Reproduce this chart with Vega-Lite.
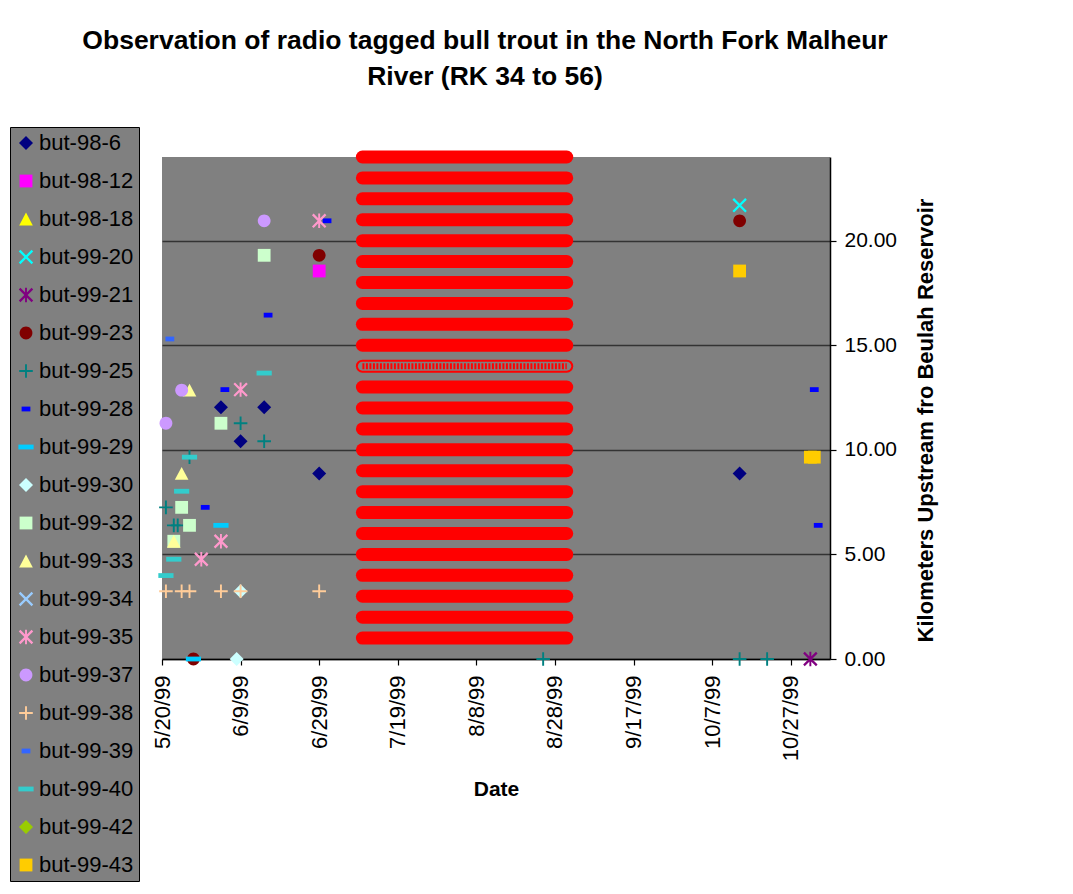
{
  "$schema": "https://vega.github.io/schema/vega-lite/v6.json",
  "width": 668,
  "height": 502,
  "autosize": {"type": "none"},
  "padding": {"left": 162, "top": 157, "right": 243, "bottom": 235},
  "background": "white",
  "title": {
    "text": ["Observation of radio tagged bull trout in the North Fork Malheur", "River (RK 34 to 56)"],
    "font": "Liberation Sans",
    "fontSize": 26.5,
    "fontWeight": "bold",
    "color": "black",
    "anchor": "middle",
    "frame": "group",
    "lineHeight": 36,
    "dx": -11,
    "offset": 36
  },
  "config": {
    "view": {"fill": "#808080", "stroke": null},
    "font": "Liberation Sans",
    "axis": {
      "labelFont": "Liberation Sans",
      "titleFont": "Liberation Sans",
      "labelColor": "black",
      "titleColor": "black",
      "domainColor": "black",
      "tickColor": "black",
      "domainWidth": 1.5,
      "tickWidth": 1.2
    }
  },
  "datasets": {
    "bars": [
      {"start": "1999-07-10", "end": "1999-08-31", "km": 1, "kind": "solid"},
      {"start": "1999-07-10", "end": "1999-08-31", "km": 2, "kind": "solid"},
      {"start": "1999-07-10", "end": "1999-08-31", "km": 3, "kind": "solid"},
      {"start": "1999-07-10", "end": "1999-08-31", "km": 4, "kind": "solid"},
      {"start": "1999-07-10", "end": "1999-08-31", "km": 5, "kind": "solid"},
      {"start": "1999-07-10", "end": "1999-08-31", "km": 6, "kind": "solid"},
      {"start": "1999-07-10", "end": "1999-08-31", "km": 7, "kind": "solid"},
      {"start": "1999-07-10", "end": "1999-08-31", "km": 8, "kind": "solid"},
      {"start": "1999-07-10", "end": "1999-08-31", "km": 9, "kind": "solid"},
      {"start": "1999-07-10", "end": "1999-08-31", "km": 10, "kind": "solid"},
      {"start": "1999-07-10", "end": "1999-08-31", "km": 11, "kind": "solid"},
      {"start": "1999-07-10", "end": "1999-08-31", "km": 12, "kind": "solid"},
      {"start": "1999-07-10", "end": "1999-08-31", "km": 13, "kind": "solid"},
      {"start": "1999-07-10", "end": "1999-08-31", "km": 14, "kind": "open"},
      {"start": "1999-07-10", "end": "1999-08-31", "km": 15, "kind": "solid"},
      {"start": "1999-07-10", "end": "1999-08-31", "km": 16, "kind": "solid"},
      {"start": "1999-07-10", "end": "1999-08-31", "km": 17, "kind": "solid"},
      {"start": "1999-07-10", "end": "1999-08-31", "km": 18, "kind": "solid"},
      {"start": "1999-07-10", "end": "1999-08-31", "km": 19, "kind": "solid"},
      {"start": "1999-07-10", "end": "1999-08-31", "km": 20, "kind": "solid"},
      {"start": "1999-07-10", "end": "1999-08-31", "km": 21, "kind": "solid"},
      {"start": "1999-07-10", "end": "1999-08-31", "km": 22, "kind": "solid"},
      {"start": "1999-07-10", "end": "1999-08-31", "km": 23, "kind": "solid"},
      {"start": "1999-07-10", "end": "1999-08-31", "km": 24, "kind": "solid"}
    ],
    "obs": [
      {"fish": "but-98-6", "date": "1999-06-04", "km": 12.04},
      {"fish": "but-98-6", "date": "1999-06-15", "km": 12.04},
      {"fish": "but-98-6", "date": "1999-06-09", "km": 10.41},
      {"fish": "but-98-6", "date": "1999-06-29", "km": 8.87},
      {"fish": "but-98-6", "date": "1999-10-14", "km": 8.87},
      {"fish": "but-98-12", "date": "1999-06-29", "km": 18.55},
      {"fish": "but-99-20", "date": "1999-10-14", "km": 21.69},
      {"fish": "but-99-21", "date": "1999-11-01", "km": 0},
      {"fish": "but-99-23", "date": "1999-06-29", "km": 19.3},
      {"fish": "but-99-23", "date": "1999-10-14", "km": 20.95},
      {"fish": "but-99-23", "date": "1999-05-28", "km": 0},
      {"fish": "but-99-25", "date": "1999-06-09", "km": 11.27},
      {"fish": "but-99-25", "date": "1999-06-15", "km": 10.41},
      {"fish": "but-99-25", "date": "1999-05-27", "km": 9.65},
      {"fish": "but-99-25", "date": "1999-05-21", "km": 7.25},
      {"fish": "but-99-25", "date": "1999-05-23", "km": 6.39},
      {"fish": "but-99-25", "date": "1999-05-24", "km": 6.39},
      {"fish": "but-99-25", "date": "1999-08-25", "km": 0},
      {"fish": "but-99-25", "date": "1999-10-14", "km": 0},
      {"fish": "but-99-25", "date": "1999-10-21", "km": 0},
      {"fish": "but-99-28", "date": "1999-07-01", "km": 20.95},
      {"fish": "but-99-28", "date": "1999-06-16", "km": 16.44},
      {"fish": "but-99-28", "date": "1999-06-05", "km": 12.88},
      {"fish": "but-99-28", "date": "1999-05-31", "km": 7.25},
      {"fish": "but-99-28", "date": "1999-11-02", "km": 12.88},
      {"fish": "but-99-28", "date": "1999-11-03", "km": 6.39},
      {"fish": "but-99-29", "date": "1999-06-04", "km": 6.39},
      {"fish": "but-99-29", "date": "1999-05-28", "km": 0},
      {"fish": "but-99-30", "date": "1999-06-09", "km": 3.24},
      {"fish": "but-99-30", "date": "1999-06-08", "km": 0},
      {"fish": "but-99-32", "date": "1999-06-15", "km": 19.3},
      {"fish": "but-99-32", "date": "1999-06-04", "km": 11.27},
      {"fish": "but-99-32", "date": "1999-05-25", "km": 7.25},
      {"fish": "but-99-32", "date": "1999-05-27", "km": 6.39},
      {"fish": "but-99-32", "date": "1999-05-23", "km": 5.63},
      {"fish": "but-99-33", "date": "1999-05-27", "km": 12.85},
      {"fish": "but-99-33", "date": "1999-05-25", "km": 8.87},
      {"fish": "but-99-33", "date": "1999-05-23", "km": 5.63},
      {"fish": "but-99-35", "date": "1999-06-29", "km": 20.95},
      {"fish": "but-99-35", "date": "1999-06-09", "km": 12.88},
      {"fish": "but-99-35", "date": "1999-06-04", "km": 5.63},
      {"fish": "but-99-35", "date": "1999-05-30", "km": 4.77},
      {"fish": "but-99-37", "date": "1999-06-15", "km": 20.95},
      {"fish": "but-99-37", "date": "1999-05-25", "km": 12.85},
      {"fish": "but-99-37", "date": "1999-05-21", "km": 11.27},
      {"fish": "but-99-38", "date": "1999-05-21", "km": 3.24},
      {"fish": "but-99-38", "date": "1999-05-25", "km": 3.24},
      {"fish": "but-99-38", "date": "1999-05-27", "km": 3.24},
      {"fish": "but-99-38", "date": "1999-06-04", "km": 3.24},
      {"fish": "but-99-38", "date": "1999-06-09", "km": 3.24},
      {"fish": "but-99-38", "date": "1999-06-29", "km": 3.24},
      {"fish": "but-99-39", "date": "1999-05-22", "km": 15.3},
      {"fish": "but-99-40", "date": "1999-06-15", "km": 13.67},
      {"fish": "but-99-40", "date": "1999-05-27", "km": 9.65},
      {"fish": "but-99-40", "date": "1999-05-25", "km": 8.02},
      {"fish": "but-99-40", "date": "1999-05-23", "km": 4.77},
      {"fish": "but-99-40", "date": "1999-05-21", "km": 3.99},
      {"fish": "but-99-43", "date": "1999-10-14", "km": 18.55},
      {"fish": "but-99-43", "date": "1999-11-01", "km": 9.65},
      {"fish": "but-99-43", "date": "1999-11-02", "km": 9.65}
    ]
  },
  "encoding": {
    "y": {
      "field": "km",
      "type": "quantitative",
      "scale": {"domain": [0, 24], "nice": false, "zero": true},
      "axis": {
        "orient": "right",
        "title": "Kilometers Upstream fro Beulah Reservoir",
        "titleFontSize": 22,
        "titleFontWeight": "bold",
        "titleAngle": 270,
        "titleBaseline": "top",
        "titlePadding": 19,
        "titleY": 263,
        "values": [0, 5, 10, 15, 20],
        "format": ".2f",
        "labelFontSize": 21,
        "labelPadding": 8,
        "tickSize": 6,
        "grid": true,
        "gridColor": "#333333",
        "gridWidth": 1.5
      }
    }
  },
  "layer": [
    {
      "data": {"name": "bars"},
      "mark": {"type": "rule", "color": "#FF0000", "strokeWidth": 13, "strokeCap": "round", "clip": false},
      "encoding": {
        "x": {
          "field": "start",
          "type": "temporal",
          "scale": {"type": "utc", "domain": [{"year": 1999, "month": 5, "date": 20, "utc": true}, {"year": 1999, "month": 11, "date": 6, "utc": true}], "nice": false},
          "axis": {
            "title": "Date",
            "titleFontSize": 21,
            "titleFontWeight": "bold",
            "titlePadding": 18,
            "values": [
              {"year": 1999, "month": 5, "date": 20, "utc": true},
              {"year": 1999, "month": 6, "date": 9, "utc": true},
              {"year": 1999, "month": 6, "date": 29, "utc": true},
              {"year": 1999, "month": 7, "date": 19, "utc": true},
              {"year": 1999, "month": 8, "date": 8, "utc": true},
              {"year": 1999, "month": 8, "date": 28, "utc": true},
              {"year": 1999, "month": 9, "date": 17, "utc": true},
              {"year": 1999, "month": 10, "date": 7, "utc": true},
              {"year": 1999, "month": 10, "date": 27, "utc": true}
            ],
            "format": "%-m/%-d/%y",
            "labelAngle": -90,
            "labelFontSize": 22,
            "labelPadding": 10,
            "tickSize": 6,
            "grid": false
          }
        },
        "x2": {"field": "end"}
      }
    },
    {
      "data": {"name": "bars"},
      "transform": [{"filter": "datum.kind === 'open'"}],
      "mark": {"type": "rule", "color": "#808080", "strokeWidth": 9, "strokeCap": "round"},
      "encoding": {
        "x": {"field": "start", "type": "temporal"},
        "x2": {"field": "end"}
      }
    },
    {
      "data": {"name": "bars"},
      "transform": [{"filter": "datum.kind === 'open'"}],
      "mark": {"type": "rule", "color": "#FF0000", "strokeWidth": 6, "strokeDash": [2, 1.5]},
      "encoding": {
        "x": {"field": "start", "type": "temporal"},
        "x2": {"field": "end"}
      }
    },
    {
      "data": {"name": "obs"},
      "mark": {"type": "point", "filled": true, "size": 256, "opacity": 1, "strokeWidth": 0, "clip": false},
      "encoding": {
        "x": {"field": "date", "type": "temporal"},
        "color": {
          "field": "fish",
          "type": "nominal",
          "scale": {
            "domain": ["but-98-6", "but-98-12", "but-98-18", "but-99-20", "but-99-21", "but-99-23", "but-99-25", "but-99-28", "but-99-29", "but-99-30", "but-99-32", "but-99-33", "but-99-34", "but-99-35", "but-99-37", "but-99-38", "but-99-39", "but-99-40", "but-99-42", "but-99-43"],
            "range": ["#000080", "#FF00FF", "#FFFF00", "#00FFFF", "#800080", "#800000", "#008080", "#0000FF", "#00CCFF", "#CCFFFF", "#CCFFCC", "#FFFF99", "#99CCFF", "#FF99CC", "#CC99FF", "#FFCC99", "#3366FF", "#33CCCC", "#99CC00", "#FFCC00"]
          },
          "legend": {
            "orient": "none",
            "legendX": -152,
            "legendY": -30,
            "title": null,
            "fillColor": "#808080",
            "strokeColor": "black",
            "padding": 5,
            "labelFont": "Liberation Sans",
            "labelFontSize": 22,
            "labelColor": "black",
            "labelLimit": 300,
            "labelOffset": 2,
            "rowPadding": 16,
            "symbolSize": 256,
            "symbolStrokeWidth": 0,
            "symbolOpacity": 1
          }
        },
        "shape": {
          "field": "fish",
          "type": "nominal",
          "scale": {
            "domain": ["but-98-6", "but-98-12", "but-98-18", "but-99-20", "but-99-21", "but-99-23", "but-99-25", "but-99-28", "but-99-29", "but-99-30", "but-99-32", "but-99-33", "but-99-34", "but-99-35", "but-99-37", "but-99-38", "but-99-39", "but-99-40", "but-99-42", "but-99-43"],
            "range": [
              "M0,-0.875L0.875,0L0,0.875L-0.875,0Z",
              "M-0.8,-0.8H0.8V0.8H-0.8Z",
              "M0,-0.8L0.85,0.8H-0.85Z",
              "M-0.7,-0.9L0.9,0.7L0.7,0.9L-0.9,-0.7ZM-0.9,0.7L0.7,-0.9L0.9,-0.7L-0.7,0.9Z",
              "M-0.7,-0.9L0.9,0.7L0.7,0.9L-0.9,-0.7ZM-0.9,0.7L0.7,-0.9L0.9,-0.7L-0.7,0.9ZM-0.12,-0.9L0.12,-0.9L0.12,0.9L-0.12,0.9Z",
              "M0.8,0A0.8,0.8 0 1,1 -0.8,0A0.8,0.8 0 1,1 0.8,0Z",
              "M-0.85,-0.12H0.85V0.12H-0.85ZM-0.12,-0.85H0.12V0.85H-0.12Z",
              "M-0.55,-0.3H0.55V0.3H-0.55Z",
              "M-0.95,-0.3H0.95V0.3H-0.95Z",
              "M0,-0.875L0.875,0L0,0.875L-0.875,0Z",
              "M-0.8,-0.8H0.8V0.8H-0.8Z",
              "M0,-0.8L0.85,0.8H-0.85Z",
              "M-0.7,-0.9L0.9,0.7L0.7,0.9L-0.9,-0.7ZM-0.9,0.7L0.7,-0.9L0.9,-0.7L-0.7,0.9Z",
              "M-0.7,-0.9L0.9,0.7L0.7,0.9L-0.9,-0.7ZM-0.9,0.7L0.7,-0.9L0.9,-0.7L-0.7,0.9ZM-0.12,-0.9L0.12,-0.9L0.12,0.9L-0.12,0.9Z",
              "M0.8,0A0.8,0.8 0 1,1 -0.8,0A0.8,0.8 0 1,1 0.8,0Z",
              "M-0.85,-0.12H0.85V0.12H-0.85ZM-0.12,-0.85H0.12V0.85H-0.12Z",
              "M-0.55,-0.3H0.55V0.3H-0.55Z",
              "M-0.95,-0.3H0.95V0.3H-0.95Z",
              "M0,-0.875L0.875,0L0,0.875L-0.875,0Z",
              "M-0.8,-0.8H0.8V0.8H-0.8Z"
            ]
          }
        }
      }
    }
  ]
}
